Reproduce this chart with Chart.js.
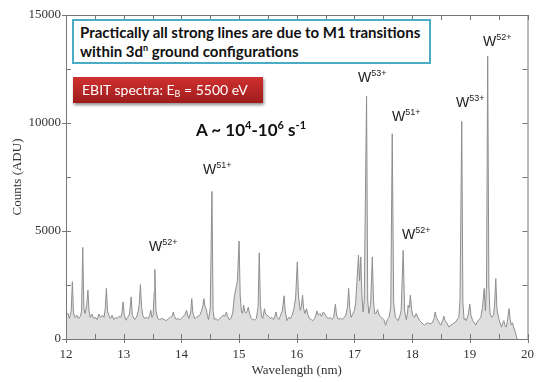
<!DOCTYPE html>
<html>
<head>
<meta charset="utf-8">
<script src="https://cdn.jsdelivr.net/npm/chart.js@4.4.1/dist/chart.umd.min.js"></script>
<style>
  html, body { margin: 0; padding: 0; background: #fff; }
  #wrap { position: relative; width: 542px; height: 382px; overflow: hidden; }
  #chart { position: absolute; left: 0; top: 0; }
  .note {
    position: absolute; left: 72px; top: 19px; width: 359px; height: 45px;
    border: 2px solid #4bacc6; box-sizing: border-box; background: #fff;
    font: bold 15px Lato, "Open Sans", sans-serif; color: #111;
    padding: 2px 0 0 6px; line-height: 19px; white-space: nowrap;
  }
  .note sup { font-size: 9px; vertical-align: 6px; line-height: 0; }
  .ebit {
    position: absolute; left: 73px; top: 77px; width: 190px; height: 26px;
    background: linear-gradient(#cf3030, #a01c1c); color: #fff;
    box-shadow: 1px 2px 3px rgba(0,0,0,0.45);
    font: 14px Lato, "Open Sans", sans-serif; line-height: 26px; padding-left: 9px;
    box-sizing: border-box; white-space: nowrap;
  }
  .ebit sub { font-size: 9px; vertical-align: -2px; line-height: 0; }
  .rate {
    position: absolute; left: 196px; top: 119px;
    font: bold 17px Lato, "Open Sans", sans-serif; color: #111; white-space: nowrap;
  }
  .rate sup { font-size: 11px; vertical-align: 7px; line-height: 0; }
  .ion {
    position: absolute; font: 14px "Liberation Sans", Arial, sans-serif; color: #222;
    white-space: nowrap;
  }
  .ion sup { font-size: 9px; vertical-align: 6px; line-height: 0; }
</style>
</head>
<body>
<div id="wrap">
  <canvas id="chart" width="542" height="382"></canvas>
  <div class="note">Practically all strong lines are due to M1 transitions<br>within 3d<sup>n</sup> ground configurations</div>
  <div class="ebit">EBIT spectra: E<sub>B</sub> = 5500 eV</div>
  <div class="rate">A ~ 10<sup>4</sup>-10<sup>6</sup> s<sup>-1</sup></div>
  <div class="ion" style="left:149px;top:238px">W<sup>52+</sup></div>
  <div class="ion" style="left:203px;top:161px">W<sup>51+</sup></div>
  <div class="ion" style="left:358px;top:69px">W<sup>53+</sup></div>
  <div class="ion" style="left:392px;top:108px">W<sup>51+</sup></div>
  <div class="ion" style="left:402px;top:226px">W<sup>52+</sup></div>
  <div class="ion" style="left:456px;top:94px">W<sup>53+</sup></div>
  <div class="ion" style="left:483px;top:33px">W<sup>52+</sup></div>
</div>
<script>
// 波长 (nm)
const wavelengths = [
  12.00, 12.03, 12.06, 12.09, 12.11, 12.13, 12.16, 12.19, 12.22, 12.25, 12.27, 12.29, 12.31, 12.33, 12.36, 12.38, 12.40, 12.42, 12.45, 12.48,
  12.51, 12.54, 12.57, 12.60, 12.63, 12.66, 12.68, 12.70, 12.72, 12.75, 12.77, 12.80, 12.83, 12.86, 12.89, 12.92, 12.95, 12.97, 12.99, 13.01,
  13.04, 13.07, 13.10, 13.13, 13.15, 13.19, 13.22, 13.25, 13.27, 13.29, 13.31, 13.33, 13.36, 13.39, 13.43, 13.45, 13.47, 13.49, 13.51, 13.53,
  13.54, 13.56, 13.59, 13.62, 13.66, 13.70, 13.74, 13.78, 13.81, 13.84, 13.86, 13.88, 13.91, 13.94, 13.97, 14.00, 14.03, 14.06, 14.09, 14.11,
  14.13, 14.16, 14.18, 14.20, 14.23, 14.26, 14.29, 14.32, 14.35, 14.37, 14.39, 14.41, 14.43, 14.45, 14.47, 14.50, 14.53, 14.55, 14.57, 14.60,
  14.63, 14.66, 14.69, 14.72, 14.75, 14.78, 14.80, 14.83, 14.86, 14.89, 14.92, 14.95, 14.97, 15.00, 15.02, 15.04, 15.06, 15.08, 15.10, 15.12,
  15.14, 15.16, 15.18, 15.21, 15.24, 15.27, 15.30, 15.33, 15.35, 15.37, 15.39, 15.41, 15.44, 15.46, 15.48, 15.51, 15.54, 15.57, 15.60, 15.62,
  15.64, 15.66, 15.69, 15.72, 15.75, 15.78, 15.80, 15.83, 15.86, 15.89, 15.92, 15.95, 15.98, 16.01, 16.03, 16.06, 16.08, 16.10, 16.12, 16.14,
  16.17, 16.19, 16.22, 16.25, 16.28, 16.31, 16.33, 16.35, 16.37, 16.40, 16.43, 16.46, 16.49, 16.52, 16.55, 16.58, 16.61, 16.64, 16.67, 16.69,
  16.72, 16.76, 16.79, 16.82, 16.85, 16.88, 16.90, 16.92, 16.94, 16.97, 17.00, 17.02, 17.04, 17.07, 17.09, 17.11, 17.13, 17.15, 17.17, 17.21,
  17.23, 17.25, 17.28, 17.31, 17.33, 17.35, 17.38, 17.40, 17.43, 17.46, 17.49, 17.51, 17.54, 17.57, 17.60, 17.63, 17.655, 17.68, 17.71, 17.74,
  17.76, 17.79, 17.81, 17.845, 17.87, 17.90, 17.92, 17.93, 17.95, 17.97, 17.99, 18.01, 18.04, 18.07, 18.10, 18.13, 18.17, 18.21, 18.24, 18.27,
  18.31, 18.35, 18.38, 18.40, 18.42, 18.45, 18.48, 18.50, 18.53, 18.55, 18.57, 18.60, 18.64, 18.67, 18.70, 18.73, 18.76, 18.79, 18.81, 18.83,
  18.86, 18.88, 18.90, 18.92, 18.94, 18.97, 19.00, 19.02, 19.05, 19.08, 19.10, 19.13, 19.16, 19.19, 19.22, 19.25, 19.27, 19.29, 19.31, 19.33,
  19.35, 19.38, 19.41, 19.43, 19.45, 19.47, 19.50, 19.53, 19.55, 19.57, 19.59, 19.61, 19.63, 19.65, 19.68, 19.70, 19.72, 19.74, 19.76, 19.78,
  19.80, 19.82
];

// 计数 (ADU)
const counts = [
  1100, 1200, 950, 1300, 2650, 1200, 990, 1100, 950, 1050, 1300, 4240, 1400, 1180, 1600, 2260, 1300, 1000, 1150, 950,
  1000, 900, 1150, 1000, 1100, 1000, 1400, 2340, 1300, 1050, 950, 1100, 900, 1000, 950, 1050, 1000, 1200, 1720, 1100,
  870, 1000, 1150, 1950, 1100, 900, 1000, 1250, 1600, 2520, 1500, 1100, 950, 1000, 950, 1100, 1330, 1000, 1100, 2200,
  3220, 1300, 950, 900, 950, 900, 850, 950, 1000, 1050, 1250, 1050, 900, 950, 900, 950, 1050, 1100, 1330, 1100,
  950, 1200, 1870, 1200, 950, 1000, 1050, 1100, 1300, 1500, 1870, 1500, 1400, 1100, 900, 1400, 6830, 1300, 900, 950,
  850, 950, 1000, 1100, 1050, 1250, 1050, 900, 950, 1200, 2000, 2400, 2650, 4535, 2000, 1300, 1180, 1560, 1250, 1200,
  1300, 1470, 1200, 950, 900, 880, 950, 1500, 3990, 1600, 1050, 950, 1400, 1150, 1100, 1050, 950, 1000, 900, 1050,
  1250, 1000, 900, 1100, 1300, 2000, 1300, 850, 1000, 950, 1100, 1400, 1900, 3570, 2000, 1330, 1500, 2030, 1400, 1180,
  1400, 1150, 950, 900, 850, 950, 1100, 1300, 1100, 1180, 1050, 1250, 1150, 1000, 950, 1000, 900, 1000, 1610, 1100,
  920, 950, 900, 1000, 1100, 1500, 2340, 1400, 1000, 1150, 1330, 1650, 2500, 3880, 2700, 3800, 2000, 1250, 1800, 11235,
  1800, 1180, 1600, 3800, 1800, 1180, 1200, 1360, 1100, 1000, 950, 900, 640, 900, 1000, 1500, 9500, 1700, 1000, 900,
  850, 1100, 1330, 4100, 1300, 900, 1200, 1560, 1450, 2030, 1400, 1100, 1000, 1180, 1000, 850, 750, 640, 700, 750,
  700, 750, 950, 1250, 1000, 850, 700, 640, 850, 1050, 850, 750, 550, 650, 700, 750, 800, 950, 1000, 1800,
  10075, 1700, 900, 950, 850, 1100, 1610, 1100, 850, 750, 640, 800, 900, 1000, 1470, 2340, 1300, 2500, 13090, 2500,
  1200, 1000, 1100, 1600, 2800, 1400, 950, 700, 550, 750, 850, 600, 550, 800, 1400, 900, 650, 750, 550, 400,
  200, 0
];

// 刻度
const xTicks = [12, 13, 14, 15, 16, 17, 18, 19, 20];
const yTicks = [0, 5000, 10000, 15000];

const serif = '"Liberation Serif", "DejaVu Serif", serif';

// 边框和刻度线
const framePlugin = {
    id: 'frame',
    afterDraw(chart) {
        const {ctx, chartArea: a, scales: {x, y}} = chart;
        ctx.save();
        ctx.strokeStyle = '#777';
        ctx.lineWidth = 1;
        ctx.strokeRect(a.left + 0.5, a.top + 0.5, a.right - a.left, a.bottom - a.top);
        ctx.beginPath();
        for (let v = 12; v <= 20.001; v += 0.5) {
            const px = Math.round(x.getPixelForValue(v)) + 0.5;
            const major = Math.abs(v - Math.round(v)) < 0.01;
            ctx.moveTo(px, a.bottom + (major ? 4 : 0));
            ctx.lineTo(px, a.bottom - 5);
            ctx.moveTo(px, a.top);
            ctx.lineTo(px, a.top + 5);
        }
        for (let v = 0; v <= 15000; v += 2500) {
            const py = Math.round(y.getPixelForValue(v)) + 0.5;
            const major = v % 5000 === 0;
            ctx.moveTo(a.left - (major ? 4 : 0), py);
            ctx.lineTo(a.left + 5, py);
            ctx.moveTo(a.right, py);
            ctx.lineTo(a.right - 5, py);
        }
        ctx.stroke();
        ctx.restore();
    }
};

const ctx = document.getElementById('chart').getContext('2d');
new Chart(ctx, {
    type: 'line',
    data: {
        datasets: [{
            label: 'Counts',
            data: wavelengths.map((w, i) => ({x: w, y: counts[i]})),
            borderColor: '#8e8e8e',
            backgroundColor: '#dfdfdf',
            borderWidth: 1,
            pointRadius: 0,
            tension: 0,
            fill: 'origin'
        }]
    },
    plugins: [framePlugin],
    options: {
        responsive: false,
        animation: false,
        layout: {padding: {top: 15, right: 11, left: 0, bottom: 0}},
        plugins: {legend: {display: false}, tooltip: {enabled: false}},
        scales: {
            x: {
                type: 'linear',
                min: 12,
                max: 20,
                afterBuildTicks: s => { s.ticks = xTicks.map(v => ({value: v})); },
                afterFit: s => { s.height = 43; },
                grid: {display: false, drawTicks: false},
                border: {display: false},
                ticks: {color: '#333', padding: 8, font: {family: serif, size: 13},
                        callback: v => String(v)},
                title: {display: true, text: 'Wavelength (nm)', color: '#333', padding: {top: 0},
                        font: {family: serif, size: 13}}
            },
            y: {
                min: 0,
                max: 15000,
                afterBuildTicks: s => { s.ticks = yTicks.map(v => ({value: v})); },
                afterFit: s => { s.width = 66; },
                grid: {display: false, drawTicks: false},
                border: {display: false},
                ticks: {color: '#333', padding: 5, font: {family: serif, size: 13},
                        callback: v => String(v)},
                title: {display: true, text: 'Counts (ADU)', color: '#333', padding: {top: 10, bottom: 0},
                        font: {family: serif, size: 13}}
            }
        }
    }
});
</script>
</body>
</html>
